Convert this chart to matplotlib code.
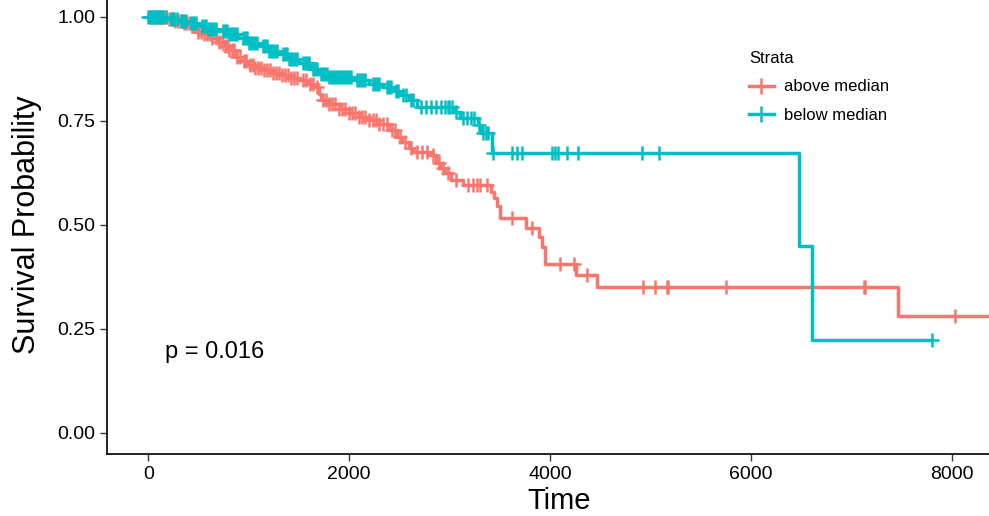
import numpy as np
import matplotlib.pyplot as plt
from matplotlib.lines import Line2D

plt.rcParams['font.family'] = ['Liberation Sans', 'DejaVu Sans']

# strata labels and colours
strata = ['above median', 'below median']
colors = ['#F8766D', '#00BFC4']

# above median: event times and survival after each drop
above_t = [0, 180, 260, 350, 420, 500, 560, 620, 700, 760, 800, 860, 920, 980,
           1060, 1150, 1240, 1330, 1420, 1500, 1580, 1650, 1700, 1720, 1800,
           1900, 2000, 2100, 2200, 2300, 2400, 2480, 2530, 2600, 2640, 2810,
           2870, 2910, 2960, 3010, 3130, 3410, 3440, 3470, 3500, 3760, 3890,
           3920, 3950, 4260, 4470, 7470, 8550]
above_s = [1.0, 0.995, 0.99, 0.985, 0.978, 0.965, 0.958, 0.95, 0.94, 0.93,
           0.92, 0.905, 0.895, 0.885, 0.878, 0.873, 0.866, 0.86, 0.854, 0.849,
           0.84, 0.832, 0.815, 0.8, 0.79, 0.778, 0.77, 0.76, 0.752, 0.742,
           0.728, 0.712, 0.7, 0.685, 0.675, 0.668, 0.65, 0.638, 0.625, 0.608,
           0.595, 0.58, 0.565, 0.545, 0.517, 0.493, 0.47, 0.447, 0.406, 0.38,
           0.351, 0.281, 0.281]
above_cens = [20, 45, 60, 85, 110, 130, 150, 175, 210, 240, 270, 300, 330, 355,
              380, 410, 440, 470, 500, 530, 560, 590, 615, 640, 680, 705, 730,
              760, 780, 805, 830, 855, 880, 910, 950, 975, 1010, 1040, 1065,
              1090, 1120, 1150, 1180, 1210, 1240, 1270, 1300, 1330, 1360, 1390,
              1420, 1450, 1480, 1540, 1570, 1610, 1640, 1680, 1740, 1770, 1800,
              1830, 1860, 1900, 1930, 1960, 2000, 2030, 2060, 2100, 2130, 2160,
              2200, 2240, 2270, 2300, 2340, 2380, 2430, 2460, 2510, 2560, 2620,
              2680, 2730, 2780, 2840, 2900, 2940, 2990, 3060, 3180, 3230, 3270,
              3300, 3370, 3620, 3820, 4100, 4240, 4370, 4930, 5050, 5170, 5180,
              5750, 7125, 7140, 8030]

# below median
below_t = [0, 200, 300, 400, 500, 600, 700, 800, 900, 1000, 1100, 1200, 1300,
           1400, 1500, 1620, 1700, 1800, 2050, 2200, 2340, 2450, 2510, 2600,
           2680, 3040, 3100, 3280, 3310, 3420, 6480, 6610, 7800]
below_s = [1.0, 0.995, 0.99, 0.985, 0.978, 0.972, 0.966, 0.958, 0.95, 0.938,
           0.93, 0.918, 0.91, 0.9, 0.89, 0.875, 0.862, 0.855, 0.849, 0.84,
           0.832, 0.822, 0.812, 0.8, 0.784, 0.771, 0.757, 0.74, 0.721, 0.673,
           0.449, 0.224, 0.224]
below_cens = [0, 15, 30, 45, 60, 75, 90, 105, 120, 135, 150, 175, 230, 245, 260,
              290, 330, 345, 360, 380, 430, 445, 460, 480, 540, 560, 580, 600,
              620, 640, 660, 680, 740, 760, 780, 800, 820, 840, 860, 880, 940,
              960, 980, 1000, 1020, 1040, 1060, 1080, 1140, 1160, 1180, 1200,
              1220, 1240, 1260, 1280, 1340, 1360, 1380, 1400, 1420, 1440, 1460,
              1480, 1540, 1560, 1580, 1600, 1640, 1660, 1680, 1720, 1740, 1760,
              1780, 1800, 1820, 1840, 1860, 1880, 1900, 1920, 1940, 1960, 1980,
              2000, 2020, 2080, 2100, 2120, 2140, 2160, 2240, 2260, 2280, 2300,
              2380, 2400, 2420, 2470, 2490, 2540, 2570, 2620, 2640, 2720, 2770,
              2820, 2870, 2920, 2960, 2990, 3000, 3020, 3060, 3130, 3170, 3210,
              3240, 3290, 3330, 3360, 3380, 3430, 3620, 3670, 3720, 4020, 4050,
              4080, 4170, 4280, 4920, 5090, 7800]

pval_text = 'p = 0.016'


def surv_at(times, surv, t):
    idx = np.searchsorted(times, t, side='right') - 1
    return np.asarray(surv)[idx]


fig = plt.figure(figsize=(9.89, 5.16), dpi=100)
ax = fig.add_axes([0.1082, 0.1206, 0.915, 0.8868])

for t, s, c, col in [(above_t, above_s, above_cens, colors[0]),
                     (below_t, below_s, below_cens, colors[1])]:
    ax.step(t, s, where='post', color=col, lw=2.5, zorder=2)
    ax.plot(c, surv_at(t, s, c), ls='none', marker='+', ms=10, mew=1.8,
            color=col, zorder=3)

ax.set_xlim(-410, 8600)
ax.set_ylim(-0.05, 1.05)
ax.set_xticks([0, 2000, 4000, 6000, 8000])
ax.set_yticks([0, 0.25, 0.5, 0.75, 1.0])
ax.set_yticklabels(['0.00', '0.25', '0.50', '0.75', '1.00'])
ax.tick_params(labelsize=14, length=5, width=1, color='#333333', labelcolor='black')
for side in ['top', 'right']:
    ax.spines[side].set_visible(False)
for side in ['left', 'bottom']:
    ax.spines[side].set_linewidth(1.2)
ax.set_xlabel('Time', fontsize=21, labelpad=3)
ax.set_ylabel('Survival Probability', fontsize=22)
ax.yaxis.set_label_coords(-0.072, 0.5)

ax.text(169, 0.195, pval_text, fontsize=17, ha='left', va='center')

handles = [Line2D([], [], color=col, lw=2.5, marker='+', ms=12, mew=1.8)
           for col in colors]
leg = fig.legend(handles, strata, title='Strata', loc='upper left',
                 bbox_to_anchor=(0.742, 0.93), frameon=False, fontsize=12,
                 title_fontsize=12, handlelength=1.5, handletextpad=0.6,
                 labelspacing=0.8)
leg._legend_box.align = 'left'

fig.savefig('out.png', dpi=100)
